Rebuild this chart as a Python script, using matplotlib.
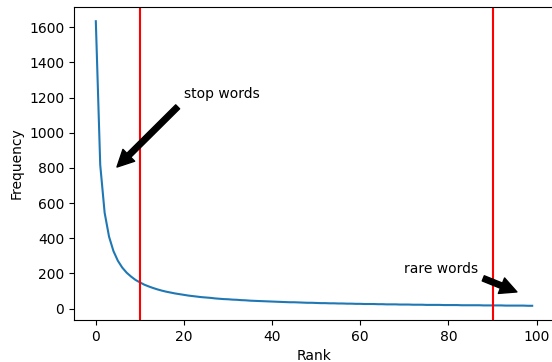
import matplotlib
matplotlib.use("Agg")
import matplotlib.pyplot as plt

# word frequency by rank
freq = [1634, 817, 545, 409, 327, 272, 233, 204, 182, 163,
        149, 136, 126, 117, 109, 102, 96, 91, 86, 82,
        78, 74, 71, 68, 65, 63, 61, 58, 56, 54,
        53, 51, 50, 48, 47, 45, 44, 43, 42, 41,
        40, 39, 38, 37, 36, 36, 35, 34, 33, 33,
        32, 31, 31, 30, 30, 29, 29, 28, 28, 27,
        27, 26, 26, 26, 25, 25, 24, 24, 24, 23,
        23, 23, 22, 22, 22, 21, 21, 21, 21, 20,
        20, 20, 20, 19, 19, 19, 19, 19, 18, 18,
        18, 18, 18, 17, 17, 17, 17, 17, 16, 16]
rank = list(range(len(freq)))
cutoffs = [10, 90]

fig = plt.figure(figsize=(5.52, 3.62), dpi=100)
ax = fig.add_axes([74 / 552, 42 / 362, 480 / 552, 313 / 362])

ax.plot(rank, freq)
for c in cutoffs:
    ax.axvline(c, color="r")

ax.annotate("stop words", xy=(4, 785), xytext=(20, 1200),
            arrowprops=dict(facecolor="black", shrink=0.05))
ax.annotate("rare words", xy=(96, 90), xytext=(70, 200),
            arrowprops=dict(facecolor="black", shrink=0.05))

ax.set_xlabel("Rank")
ax.set_ylabel("Frequency")

fig.savefig("out.png", dpi=100)
